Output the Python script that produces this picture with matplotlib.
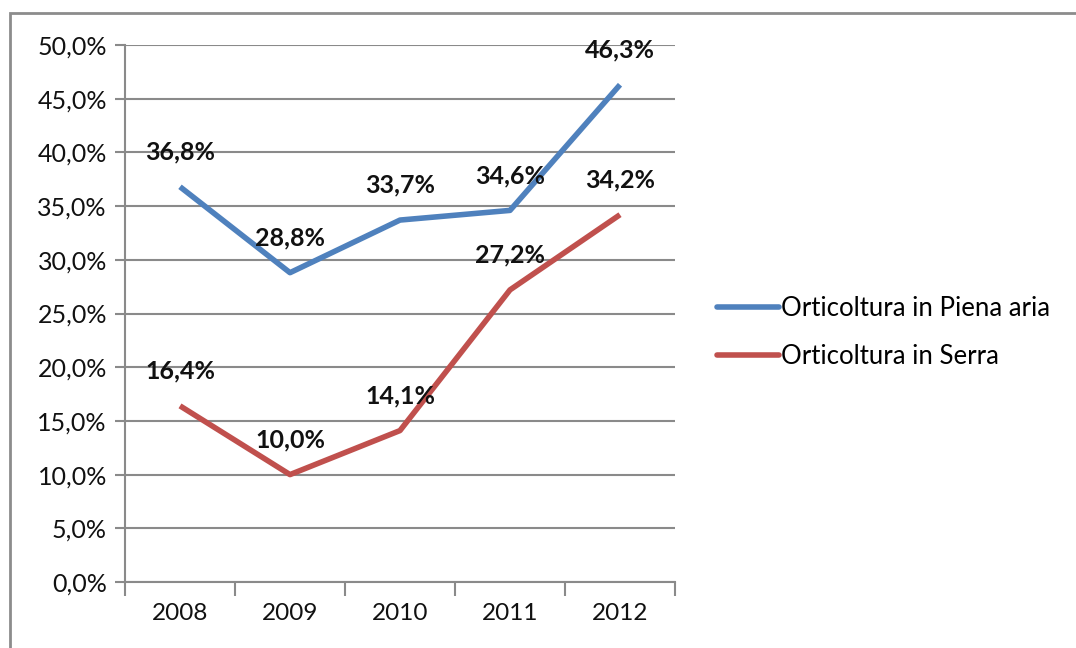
import matplotlib.pyplot as plt
import matplotlib.patches as patches
import numpy as np

years = ['2008', '2009', '2010', '2011', '2012']
piena_aria = [36.8, 28.8, 33.7, 34.6, 46.3]
serra = [16.4, 10.0, 14.1, 27.2, 34.2]

plt.rcParams['font.family'] = ['Lato', 'DejaVu Sans']

W, H = 1076, 648
fig = plt.figure(figsize=(W / 100, H / 100), dpi=100)
ax = fig.add_axes([125 / W, 66 / H, 550 / W, 537 / H])

# outer chart frame
fig.patches.append(patches.Rectangle((10 / W, -0.05), 1.2, (H - 13) / H + 0.05,
                                     transform=fig.transFigure, fill=False,
                                     edgecolor='#8c8c8c', linewidth=2))

grid_c = '#8a8a8a'
x = np.arange(len(years))

ax.plot(x, np.array(piena_aria) / 100, color='#4F81BD', linewidth=4,
        solid_capstyle='butt', label='Orticoltura in Piena aria', zorder=3)
ax.plot(x, np.array(serra) / 100, color='#C0504D', linewidth=4,
        solid_capstyle='butt', label='Orticoltura in Serra', zorder=3)

for series in (piena_aria, serra):
    for xi, v in zip(x, series):
        ax.annotate(('%.1f%%' % v).replace('.', ','), (xi, v / 100),
                    xytext=(0, 25), textcoords='offset points',
                    ha='center', va='center', fontsize=18, fontweight='bold',
                    color='#111111', zorder=4)

ax.set_xlim(-0.5, 4.5)
ax.set_ylim(0, 0.5)
ax.set_yticks(np.arange(0, 0.51, 0.05))
ax.set_yticklabels([('%.1f%%' % (v * 100)).replace('.', ',')
                    for v in np.arange(0, 0.51, 0.05)])
ax.set_xticks(x)
ax.set_xticklabels(years)
ax.set_xticks(np.arange(-0.5, 4.6, 1), minor=True)

ax.tick_params(axis='y', length=7, width=1.5, color=grid_c, labelsize=18,
               pad=6, labelcolor='#111111')
ax.tick_params(axis='x', which='major', length=0, labelsize=17.5, pad=15,
               labelcolor='#111111')
ax.tick_params(axis='x', which='minor', length=10, width=1.5, color=grid_c)

ax.grid(axis='y', color=grid_c, linewidth=1.5)
ax.set_axisbelow(True)
for s in ('top', 'right'):
    ax.spines[s].set_visible(False)
for s in ('left', 'bottom'):
    ax.spines[s].set_color(grid_c)
    ax.spines[s].set_linewidth(1.5)

leg = fig.legend(loc='upper left', bbox_to_anchor=(707 / W, 1 - 286 / H),
                 frameon=False, fontsize=18.5, handlelength=2.4,
                 handletextpad=0.08, labelspacing=0.9, borderaxespad=0)
for line in leg.get_lines():
    line.set_solid_capstyle('round')

fig.savefig('out.png', dpi=100)
